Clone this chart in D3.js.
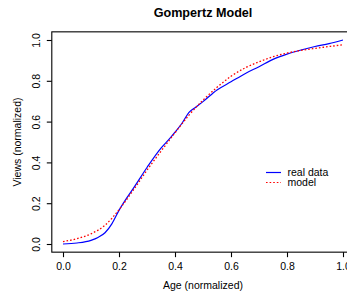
<!DOCTYPE html>
<html>
<head>
<meta charset="utf-8">
<script src="https://cdn.jsdelivr.net/npm/d3@7"></script>
<style>
  html, body { margin: 0; padding: 0; background: #fff; }
  svg { display: block; font-family: "Liberation Sans", Arial, Helvetica, sans-serif; }
</style>
</head>
<body>
<svg id="chart" width="347" height="297"></svg>
<script>
// ---- data ----
const ageReal   = [0, 0.05, 0.1, 0.125, 0.15, 0.175, 0.2, 0.225, 0.25, 0.3, 0.35, 0.38, 0.4, 0.425, 0.45, 0.475, 0.5, 0.55, 0.6, 0.65, 0.7, 0.75, 0.8, 0.85, 0.9, 0.95, 1.0];
const viewsReal = [0, 0.005, 0.018, 0.032, 0.055, 0.1, 0.165, 0.22, 0.27, 0.375, 0.47, 0.515, 0.548, 0.592, 0.645, 0.672, 0.698, 0.755, 0.795, 0.835, 0.869, 0.905, 0.931, 0.951, 0.968, 0.982, 1.0];
const ageModel   = [0, 0.05, 0.1, 0.15, 0.2, 0.25, 0.3, 0.35, 0.4, 0.45, 0.5, 0.55, 0.6, 0.65, 0.7, 0.75, 0.8, 0.85, 0.9, 0.95, 1.0];
const viewsModel = [0.012, 0.026, 0.05, 0.092, 0.168, 0.262, 0.362, 0.455, 0.545, 0.632, 0.705, 0.768, 0.822, 0.863, 0.893, 0.918, 0.936, 0.949, 0.959, 0.968, 0.977];
const xTicks = [0, 0.2, 0.4, 0.6, 0.8, 1.0];
const yTicks = [0, 0.2, 0.4, 0.6, 0.8, 1.0];
const legendLabels = ["real data", "model"];
const titleText = "Gompertz Model";
const xLabel = "Age (normalized)";
const yLabel = "Views (normalized)";

// ---- layout ----
const svg = d3.select("#chart");
const pLeft = 51.8, pRight = 354.2, pTop = 31.84, pBottom = 252.16;
const x = d3.scaleLinear().domain([-0.04, 1.04]).range([pLeft, pRight]);
const y = d3.scaleLinear().domain([-0.04, 1.04]).range([pBottom, pTop]);
const fs = 10.5;

// box
svg.append("rect")
  .attr("x", pLeft).attr("y", pTop)
  .attr("width", pRight - pLeft).attr("height", pBottom - pTop)
  .attr("fill", "none").attr("stroke", "#000").attr("stroke-width", 1.1);

// x axis
const gx = svg.append("g").attr("transform", `translate(0,${pBottom})`)
  .call(d3.axisBottom(x).tickValues(xTicks).tickFormat(d3.format(".1f")).tickSize(5).tickSizeOuter(0).tickPadding(5.5));
gx.select(".domain").remove();
gx.selectAll("line").attr("stroke", "#000").attr("stroke-width", 1.1);
gx.selectAll("text").attr("font-size", fs).attr("fill", "#000").attr("font-family", null);

// y axis
const gy = svg.append("g").attr("transform", `translate(${pLeft},0)`)
  .call(d3.axisLeft(y).tickValues(yTicks).tickFormat(d3.format(".1f")).tickSize(5).tickSizeOuter(0));
gy.select(".domain").remove();
gy.selectAll("line").attr("stroke", "#000").attr("stroke-width", 1.1);
gy.selectAll("text")
  .attr("font-size", fs).attr("fill", "#000").attr("font-family", null)
  .attr("transform", "rotate(-90)")
  .attr("x", 0).attr("y", -11.5).attr("dy", 0)
  .attr("text-anchor", "middle");

// titles
svg.append("text").attr("x", (pLeft + pRight) / 2).attr("y", 16.5)
  .attr("text-anchor", "middle").attr("font-size", 12.6).attr("font-weight", "bold")
  .text(titleText);
svg.append("text").attr("x", (pLeft + pRight) / 2).attr("y", 288.5)
  .attr("text-anchor", "middle").attr("font-size", fs).text(xLabel);
svg.append("text").attr("transform", `translate(21,${(pTop + pBottom) / 2}) rotate(-90)`)
  .attr("text-anchor", "middle").attr("font-size", fs).text(yLabel);

// lines
const line = d3.line().x(d => x(d[0])).y(d => y(d[1])).curve(d3.curveMonotoneX);
svg.append("path")
  .datum(ageReal.map((a, i) => [a, viewsReal[i]]))
  .attr("d", line).attr("fill", "none").attr("stroke", "#0000ff").attr("stroke-width", 1.2);
svg.append("path")
  .datum(ageModel.map((a, i) => [a, viewsModel[i]]))
  .attr("d", line).attr("fill", "none").attr("stroke", "#ff0000").attr("stroke-width", 1.3)
  .attr("stroke-dasharray", "1.6,2");

// legend
const legend = svg.append("g");
const legendStyles = [{ color: "#0000ff", dash: null }, { color: "#ff0000", dash: "1.6,2" }];
legendLabels.forEach((lab, i) => {
  const ly = 172.5 + i * 10;
  legend.append("line").attr("x1", 266).attr("x2", 281).attr("y1", ly).attr("y2", ly)
    .attr("stroke", legendStyles[i].color).attr("stroke-width", 1.2)
    .attr("stroke-dasharray", legendStyles[i].dash);
  legend.append("text").attr("x", 287.5).attr("y", ly + 3.8)
    .attr("font-size", fs).attr("fill", "#000").text(lab);
});
</script>
</body>
</html>
